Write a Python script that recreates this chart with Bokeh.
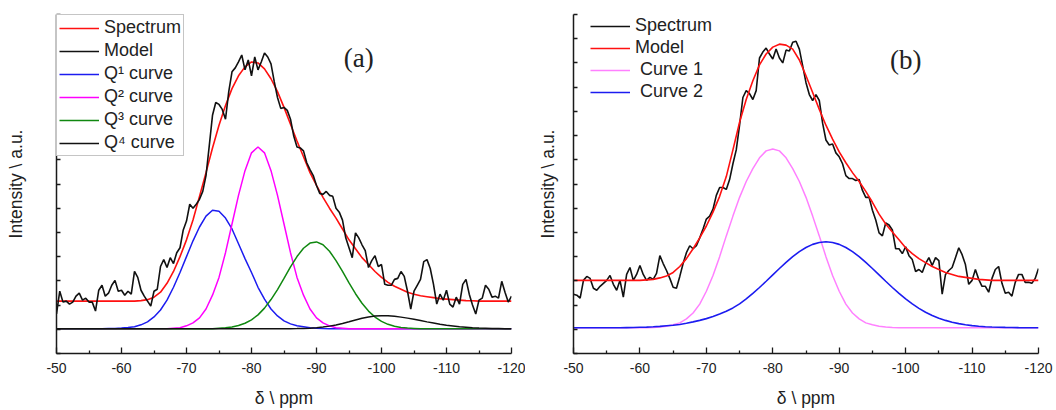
from bokeh.plotting import figure
from bokeh.layouts import row
from bokeh.models import (Range1d, FixedTicker, Legend, LegendItem, Label,
                          CustomJSTickFormatter)
from bokeh.embed import file_html
from bokeh.resources import INLINE

# ---------------- data ----------------
# noisy spectra sampled every 0.5 ppm from -50 to -120 ppm
spec_a = [15, 38, 27, 28, 25, 27, 33, 36, 29, 31,
          27, 27, 18, 39, 44, 33, 36, 44, 49, 38,
          39, 34, 38, 35, 58, 52, 39, 33, 28, 23,
          38, 40, 63, 70, 62, 72, 66, 77, 82, 100,
          109, 126, 122, 126, 131, 139, 155, 185, 216, 229,
          227, 222, 212, 240, 260, 264, 270, 277, 262, 272,
          256, 275, 262, 270, 279, 275, 268, 250, 234, 223,
          224, 221, 212, 195, 184, 183, 180, 168, 161, 155,
          145, 137, 136, 139, 135, 134, 122, 118, 110, 92,
          82, 72, 97, 92, 85, 79, 62, 69, 74, 63,
          65, 45, 44, 44, 50, 51, 58, 53, 38, 20,
          38, 44, 50, 68, 70, 61, 45, 25, 35, 29,
          39, 25, 22, 32, 25, 45, 50, 35, 24, 15,
          29, 31, 44, 40, 32, 33, 31, 48, 37, 27,
          33]
spec_b = [34, 33, 30, 48, 52, 50, 40, 38, 42, 45,
          48, 53, 44, 38, 48, 31, 54, 61, 48, 54,
          63, 54, 48, 51, 49, 55, 73, 65, 58, 50,
          41, 40, 52, 65, 76, 83, 80, 83, 91, 100,
          110, 113, 120, 134, 142, 142, 140, 150, 166, 180,
          205, 233, 240, 237, 231, 240, 273, 279, 283, 277,
          272, 282, 273, 268, 281, 280, 289, 290, 282, 265,
          248, 236, 230, 236, 230, 207, 190, 185, 186, 177,
          173, 166, 154, 151, 151, 149, 150, 139, 132, 132,
          119, 109, 96, 93, 106, 104, 99, 80, 80, 75,
          82, 73, 69, 57, 59, 56, 65, 71, 63, 71,
          68, 34, 54, 58, 61, 71, 81, 74, 64, 44,
          48, 59, 49, 42, 42, 36, 50, 59, 62, 45,
          35, 36, 32, 46, 54, 54, 46, 46, 45, 50,
          60]

# fitted curves sampled every 1 ppm from -50 to -120 ppm
model_a = [28, 28, 28, 28, 28, 28, 28, 28, 28, 28,
           28, 28, 28, 28.5, 29.5, 32, 37, 46, 58, 73,
           90, 110, 134, 158, 183, 206, 226, 243, 256, 265,
           270, 269, 263, 253, 240, 224, 207, 190, 174, 158,
           145, 133, 122, 112, 101, 90, 81, 72, 65, 58,
           52, 47, 43, 40, 37, 35, 33.5, 32.5, 31.5, 30.5,
           30, 29.5, 29, 28.5, 28.3, 28, 28, 28, 28, 28,
           28]
q1_a = [0, 0, 0, 0, 0, 0, 0, 0, 0.2, 0.4,
        0.7, 1.2, 2, 4, 7, 12, 19, 29, 42, 57,
        73, 89, 103, 114, 120, 119, 112, 101, 86, 71,
        57, 42, 30, 20, 13, 8, 5, 3, 2, 1,
        0.5, 0.2, 0, 0, 0, 0, 0, 0, 0, 0,
        0, 0, 0, 0, 0, 0, 0, 0, 0, 0,
        0, 0, 0, 0, 0, 0, 0, 0, 0, 0,
        0]
q2_a = [0, 0, 0, 0, 0, 0, 0, 0, 0, 0,
        0, 0, 0, 0, 0, 0, 0, 0, 0.5, 1,
        3, 6, 11, 20, 34, 52, 77, 106, 135, 160,
        178, 184, 178, 160, 135, 106, 77, 52, 34, 20,
        11, 6, 3, 1, 0.5, 0, 0, 0, 0, 0,
        0, 0, 0, 0, 0, 0, 0, 0, 0, 0,
        0, 0, 0, 0, 0, 0, 0, 0, 0, 0,
        0]
q3_a = [0, 0, 0, 0, 0, 0, 0, 0, 0, 0,
        0, 0, 0, 0, 0, 0, 0, 0, 0, 0,
        0, 0, 0, 0, 0, 0.5, 1.0, 1.8, 3.3, 5.6,
        9.1, 14.1, 20.9, 29.6, 39.7, 51, 62.6, 73.1, 81.5, 86.7,
        87.9, 85, 78.5, 69, 58, 46.4, 35.5, 25.8, 17.9, 11.9,
        7.5, 4.5, 2.6, 1.4, 0.7, 0.35, 0, 0, 0, 0,
        0, 0, 0, 0, 0, 0, 0, 0, 0, 0,
        0]
q4_a = [0, 0, 0, 0, 0, 0, 0, 0, 0, 0,
        0, 0, 0, 0, 0, 0, 0, 0, 0, 0,
        0, 0, 0, 0, 0, 0, 0, 0, 0, 0,
        0, 0, 0, 0, 0, 0.1, 0.15, 0.2, 0.35, 0.6,
        1.1, 1.8, 2.7, 3.9, 5.4, 7.1, 8.9, 10.6, 12.0, 13.0,
        13.3, 13.1, 12.6, 11.8, 10.8, 9.6, 8.3, 7.0, 5.8, 4.6,
        3.6, 2.8, 2.0, 1.5, 1.0, 0.7, 0.5, 0.3, 0.2, 0.1,
        0]
model_b = [48, 48, 48, 48, 48, 48, 48, 48, 48, 48,
           48, 48.5, 49, 50.5, 52.5, 56, 62, 70, 80, 91,
           103, 117, 133, 153, 180, 208, 231, 250, 266, 277,
           284, 287, 286, 282, 271, 255, 238, 221, 205, 191,
           178, 167, 157, 148, 138, 127, 115, 105, 97, 89,
           81, 75, 70, 66, 62, 59, 56, 54, 52, 51,
           50, 49, 48.5, 48, 48, 48, 48, 48, 48, 48,
           48]
curve1_b = [0, 0, 0, 0, 0, 0, 0, 0, 0, 0,
            0, 0, 0.3, 0.7, 1.5, 3, 5, 9, 15, 24,
            37, 53, 72, 93, 113, 132, 148, 161, 172, 179,
            181, 179, 172, 161, 148, 132, 113, 93, 72, 53,
            37, 24, 15, 9, 5, 3, 1.5, 0.7, 0.3, 0,
            0, 0, 0, 0, 0, 0, 0, 0, 0, 0,
            0, 0, 0, 0, 0, 0, 0, 0, 0, 0,
            0]
curve2_b = [0, 0, 0, 0, 0, 0, 0, 0.1, 0.2, 0.3,
            0.5, 0.7, 1.0, 1.4, 2.0, 2.6, 3.4, 4.6, 6.0, 7.5,
            9.3, 11.4, 13.9, 16.8, 20.1, 24.2, 29.2, 34.8, 40.8, 47.1,
            53.6, 60.0, 66.2, 72.0, 77.1, 81.3, 84.4, 86.3, 87.0, 86.3,
            84.4, 81.3, 77.1, 72.0, 66.2, 60.0, 53.6, 47.1, 40.8, 34.8,
            29.2, 24.2, 19.7, 15.8, 12.5, 9.7, 7.5, 5.6, 4.2, 3.1,
            2.2, 1.6, 1.1, 0.8, 0.6, 0.4, 0.25, 0.15, 0.1, 0.05,
            0]

ppm_fine = [-50 - 0.5 * i for i in range(len(spec_a))]
ppm_coarse = [-50 - i for i in range(len(model_a))]

x_ticks = [-50, -60, -70, -80, -90, -100, -110, -120]
x_minor = [-55, -65, -75, -85, -95, -105, -115]
x_tick_labels = ["-50", "-60", "-70", "-80", "-90", "-100", "-110", "-120"]

SANS = "Liberation Sans"
SERIF = "Liberation Serif"


def make_fig(width, left, right, y_lo, y_hi, ylab_standoff):
    p = figure(width=width, height=410, x_range=Range1d(-50, -120),
               y_range=Range1d(y_lo, y_hi), output_backend="svg",
               toolbar_location=None, min_border_left=left,
               min_border_right=right, min_border_top=14, min_border_bottom=53)
    p.outline_line_color = None
    p.xgrid.visible = False
    p.ygrid.visible = False
    p.background_fill_color = "white"
    p.border_fill_color = "white"

    xa = p.xaxis[0]
    xa.ticker = FixedTicker(ticks=x_ticks, minor_ticks=x_minor)
    xa.formatter = CustomJSTickFormatter(
        args=dict(tvals=x_ticks, tlabels=x_tick_labels),
        code="const i = tvals.indexOf(tick); return i >= 0 ? tlabels[i] : '';")
    xa.major_tick_in = 6
    xa.major_tick_out = 0
    xa.minor_tick_in = 3
    xa.minor_tick_out = 0
    xa.axis_line_width = 1.5
    xa.axis_line_color = "#1a1a1a"
    xa.major_tick_line_color = "#1a1a1a"
    xa.minor_tick_line_color = "#1a1a1a"
    xa.major_tick_line_width = 1.3
    xa.minor_tick_line_width = 1.3
    xa.major_label_text_font = SANS
    xa.major_label_text_font_size = "14px"
    xa.major_label_text_color = "#222222"
    xa.major_label_standoff = 9
    xa.axis_label = "δ \\ ppm"
    xa.axis_label_text_font = SANS
    xa.axis_label_text_font_size = "17.5px"
    xa.axis_label_text_font_style = "normal"
    xa.axis_label_text_color = "#222222"
    xa.axis_label_standoff = 12

    ya = p.yaxis[0]
    ya.ticker = FixedTicker(ticks=[y_hi - 24.5 * k for k in range(15)])
    ya.formatter = CustomJSTickFormatter(code="return '';")
    ya.major_tick_in = 4
    ya.major_tick_out = 0
    ya.minor_tick_line_color = None
    ya.axis_line_width = 1.5
    ya.axis_line_color = "#1a1a1a"
    ya.major_tick_line_color = "#1a1a1a"
    ya.major_tick_line_width = 1.3
    ya.major_label_standoff = 0
    ya.axis_label = "Intensity \\ a.u."
    ya.axis_label_text_font = SANS
    ya.axis_label_text_font_size = "17.5px"
    ya.axis_label_text_font_style = "normal"
    ya.axis_label_text_color = "#222222"
    ya.axis_label_standoff = ylab_standoff
    return p


# ---------------- panel (a) ----------------
p1 = make_fig(525, 56, 14, -25, 318, 31)
r_q1 = p1.line(ppm_coarse, q1_a, line_color="#1c1cf0", line_width=1.5)
r_q2 = p1.line(ppm_coarse, q2_a, line_color="#ff00ff", line_width=1.5)
r_q3 = p1.line(ppm_coarse, q3_a, line_color="#108810", line_width=1.5)
r_q4 = p1.line(ppm_coarse, q4_a, line_color="#111111", line_width=1.5)
r_ma = p1.line(ppm_coarse, model_a, line_color="#ff1010", line_width=1.6)
r_sa = p1.line(ppm_fine, spec_a, line_color="#111111", line_width=1.6)

leg_a = Legend(items=[
    LegendItem(label="Spectrum", renderers=[r_ma]),
    LegendItem(label="Model", renderers=[r_sa]),
    LegendItem(label="Q¹ curve", renderers=[r_q1]),
    LegendItem(label="Q² curve", renderers=[r_q2]),
    LegendItem(label="Q³ curve", renderers=[r_q3]),
    LegendItem(label="Q⁴ curve", renderers=[r_q4]),
], location="top_left", margin=0, padding=2, spacing=2,
    glyph_width=40, glyph_height=20, label_height=20, label_standoff=5,
    label_text_font=SANS, label_text_font_size="18px",
    label_text_color="#222222",
    border_line_color="#8c8c8c", border_line_width=1,
    background_fill_color="white", background_fill_alpha=1.0)
p1.add_layout(leg_a)
p1.add_layout(Label(x=-96.5, y=274, text="(a)", text_font=SERIF,
                    text_font_size="27px", text_align="center",
                    text_baseline="middle", text_color="#222222"))

# ---------------- panel (b) ----------------
p2 = make_fig(531, 48, 18, -26, 317, 16)
r_c1 = p2.line(ppm_coarse, curve1_b, line_color="#ff80ff", line_width=1.5)
r_c2 = p2.line(ppm_coarse, curve2_b, line_color="#1c1cf0", line_width=1.6)
r_sb = p2.line(ppm_fine, spec_b, line_color="#111111", line_width=1.6)
r_mb = p2.line(ppm_coarse, model_b, line_color="#ff1010", line_width=1.6)

leg_b = Legend(items=[
    LegendItem(label="Spectrum", renderers=[r_sb]),
    LegendItem(label="Model", renderers=[r_mb]),
    LegendItem(label=" Curve 1", renderers=[r_c1]),
    LegendItem(label=" Curve 2", renderers=[r_c2]),
], location=(17, 251), margin=0, padding=0, spacing=1,
    glyph_width=40, glyph_height=20, label_height=20, label_standoff=5,
    label_text_font=SANS, label_text_font_size="18px",
    label_text_color="#222222",
    border_line_color=None, background_fill_alpha=0.0)
p2.add_layout(leg_b)
p2.add_layout(Label(x=-100, y=271, text="(b)", text_font=SERIF,
                    text_font_size="27px", text_align="center",
                    text_baseline="middle", text_color="#222222"))

layout = row(p1, p2)
open("out.html", "w").write(file_html(layout, INLINE))
